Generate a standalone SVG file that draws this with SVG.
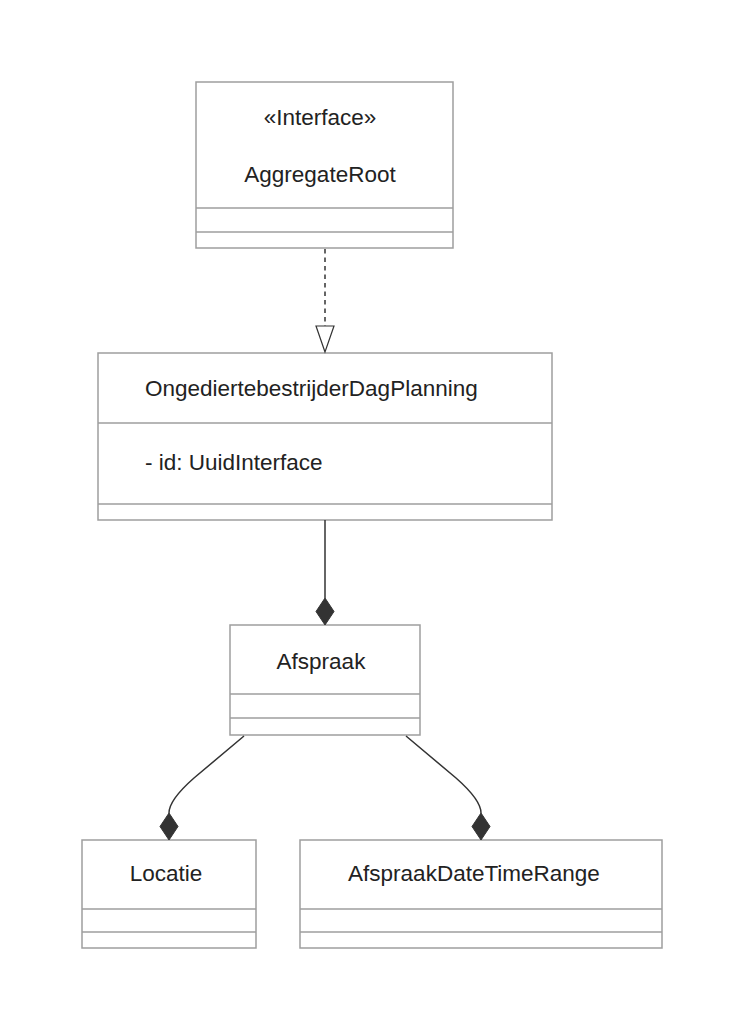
<svg xmlns="http://www.w3.org/2000/svg" width="744" height="1032" viewBox="0 0 744 1032">
<style>
.box{fill:#fff;stroke:#9e9e9e;stroke-width:1.5}
.div{stroke:#9e9e9e;stroke-width:1.5}
.t{font-family:"Liberation Sans",Arial,sans-serif;font-size:22.5px;fill:#222}
.c{text-anchor:middle}
.ln{fill:none;stroke:#333;stroke-width:1.5}
.dia{fill:#333;stroke:#333;stroke-width:1}
</style>
<rect width="744" height="1032" fill="#fff"/>
<g id="AggregateRoot">
<rect class="box" x="196" y="82" width="257" height="166"/>
<line class="div" x1="196" y1="208" x2="453" y2="208"/>
<line class="div" x1="196" y1="232" x2="453" y2="232"/>
<text class="t c" x="320" y="125">«Interface»</text>
<text class="t c" x="320" y="182">AggregateRoot</text>
</g>
<g id="OngediertebestrijderDagPlanning">
<rect class="box" x="98" y="353" width="454" height="167"/>
<line class="div" x1="98" y1="423" x2="552" y2="423"/>
<line class="div" x1="98" y1="504" x2="552" y2="504"/>
<text class="t" x="145" y="396">OngediertebestrijderDagPlanning</text>
<text class="t" x="145" y="470">- id: UuidInterface</text>
</g>
<g id="Afspraak">
<rect class="box" x="230" y="625" width="190" height="110"/>
<line class="div" x1="230" y1="694" x2="420" y2="694"/>
<line class="div" x1="230" y1="718" x2="420" y2="718"/>
<text class="t c" x="321" y="669">Afspraak</text>
</g>
<g id="Locatie">
<rect class="box" x="82" y="840" width="174" height="108"/>
<line class="div" x1="82" y1="909" x2="256" y2="909"/>
<line class="div" x1="82" y1="932" x2="256" y2="932"/>
<text class="t c" x="166" y="881">Locatie</text>
</g>
<g id="AfspraakDateTimeRange">
<rect class="box" x="300" y="840" width="362" height="108"/>
<line class="div" x1="300" y1="909" x2="662" y2="909"/>
<line class="div" x1="300" y1="932" x2="662" y2="932"/>
<text class="t c" x="474" y="881">AfspraakDateTimeRange</text>
</g>
<g id="connectors">
<line class="ln" x1="325" y1="249" x2="325" y2="326" stroke-dasharray="4.5,4"/>
<polygon points="325,352 316,326 334,326" fill="#fff" stroke="#333" stroke-width="1.2"/>
<line class="ln" x1="325" y1="520" x2="325" y2="598"/>
<polygon class="dia" points="325,598 334,611.5 325,625 316,611.5"/>
<path class="ln" d="M244,736 L194,778 Q169,800 169,813"/>
<polygon class="dia" points="169,813 178,826.5 169,840 160,826.5"/>
<path class="ln" d="M406,736 L456,778 Q481,800 481,813"/>
<polygon class="dia" points="481,813 490,826.5 481,840 472,826.5"/>
</g>
</svg>
